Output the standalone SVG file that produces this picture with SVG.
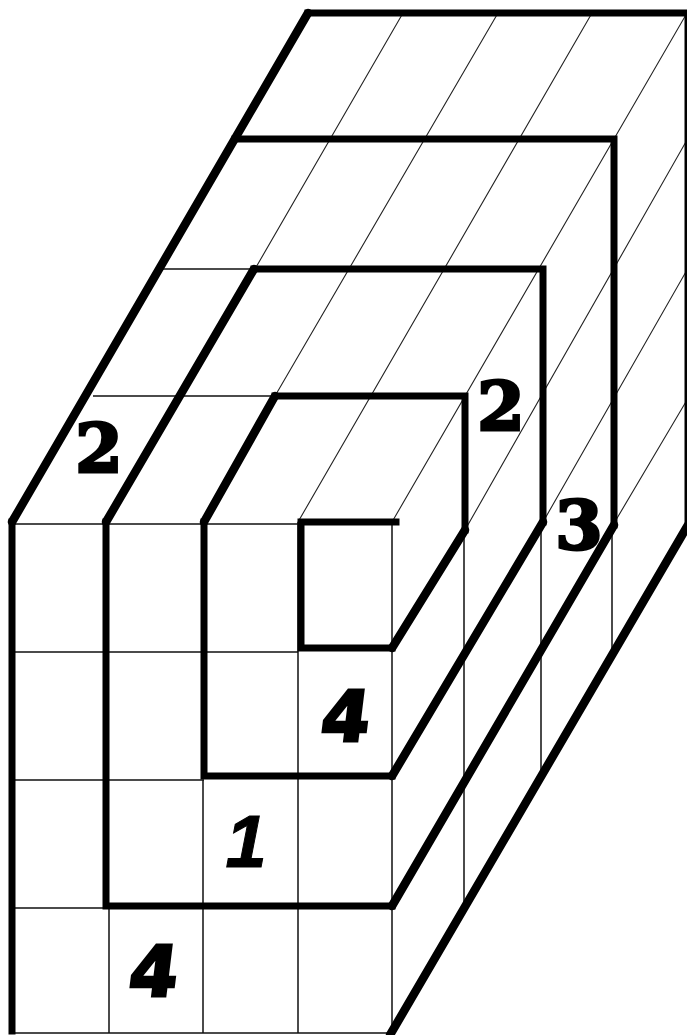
<svg xmlns="http://www.w3.org/2000/svg" width="687" height="1035" viewBox="0 0 687 1035">
<style>
.thin{stroke:#111;stroke-width:1.5;fill:none}
.diag{stroke:#222;stroke-width:1.1;fill:none}
.thick{stroke:#000;stroke-width:7;fill:none;stroke-linejoin:miter;stroke-linecap:square}
.slant{stroke:#000;stroke-width:8.5;fill:none;stroke-linecap:round}
.lbl{font-family:"DejaVu Serif",serif;font-weight:bold;font-size:68px;fill:#000;stroke:#000;stroke-width:3;text-anchor:middle}
.four{font-family:"DejaVu Sans",sans-serif;font-weight:bold;font-size:70px;fill:#000;stroke:#000;stroke-width:3;text-anchor:middle}
.one{font-family:"Liberation Sans",sans-serif;font-weight:bold;font-style:italic;font-size:74px;fill:#000;stroke:#000;stroke-width:1;text-anchor:middle}
</style>
<rect width="687" height="1035" fill="#fff"/>
<g id="connectors">
<g id="grid-front">
<path class="thin" d="M11 524H392M11 652H298M11 780H204M11 908H392M11 1033H392"/>
<path class="thin" d="M109 908V1033M203 780V1033M298 522V1033M392 522V1033"/>
<path class="thin" d="M464 530V907M541 525V777M612 525V650"/>
<path class="thin" d="M93 396H275M162 269H254"/>
</g>
<g id="grid-diagonals">
<path class="diag" d="M403 13L255 269M498 13L275 396M592 13L298 522M687 13L392 522"/>
<path class="diag" d="M465 530L687 140M543 522L687 270M613 525L687 400"/>
</g>
<g id="outlines">
<path class="thick" d="M12 1031V522M308 13H690"/>
<path class="thick" d="M235 139H614V525M392 906H106V522M254 269H543V522M392 776H204V522M275 396H465V530M392 648H301V522H396"/>
<path class="thick" d="M688 13V525" style="stroke-linecap:butt"/>
<path class="slant" d="M12 522L308 13M106 522L254 269M204 522L275 396M465 530L392 648M543 522L392 776M614 525L392 906M688 525L390 1035"/>
</g>
</g>
<g id="label-2-left"><text class="lbl" x="99" y="472">2</text></g>
<g id="label-2-right"><text class="lbl" x="501" y="430">2</text></g>
<g id="label-3"><text class="lbl" x="579" y="549">3</text></g>
<g id="label-4-mid"><text class="four" transform="translate(343 741) skewX(-7)">4</text></g>
<g id="label-1"><text class="one" x="246" y="867">1</text></g>
<g id="label-4-low"><text class="four" transform="translate(151 996) skewX(-7)">4</text></g>
</svg>
